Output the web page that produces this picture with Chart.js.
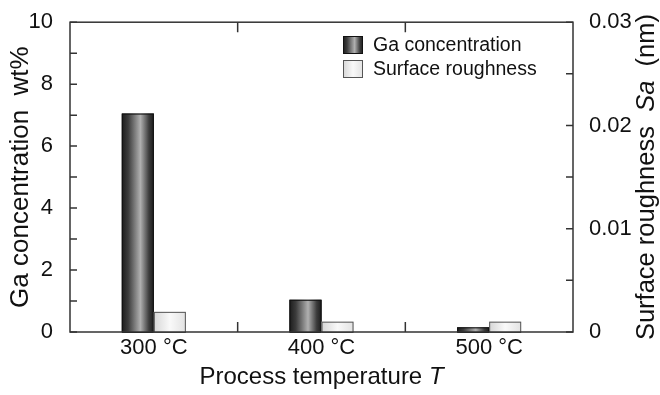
<!DOCTYPE html>
<html>
<head>
<meta charset="utf-8">
<script src="https://cdn.jsdelivr.net/npm/chart.js@4.4.0/dist/chart.umd.min.js"></script>
<style>
  html, body { margin: 0; padding: 0; background: #fff; }
  #wrap { width: 660px; height: 395px; }
</style>
</head>
<body>
<div id="wrap"><canvas id="grafico" width="660" height="395"></canvas></div>
<script>
const temperaturas = ['300 °C', '400 °C', '500 °C'];
const gaConcentracion = [7.05, 1.04, 0.15];    // wt%
const rugosidad = [0.00195, 0.001, 0.001];     // Sa (nm)
const etiquetasIzq = ['0', '2', '4', '6', '8', '10'];
const etiquetasDer = ['0', '0.01', '0.02', '0.03'];
const nombres = ['Ga concentration', 'Surface roughness'];

const FUENTE = "'Liberation Sans', Arial, Helvetica, sans-serif";
const TINTA = '#111';

// degradado horizontal de cada barra (gris oscuro / gris claro)
function degradado(ctx, x0, ancho, oscuro) {
  const g = ctx.createLinearGradient(x0, 0, x0 + ancho, 0);
  if (oscuro) {
    g.addColorStop(0, '#1c1c1c');
    g.addColorStop(0.2, '#3c3c3c');
    g.addColorStop(0.58, '#b0b0b0');
    g.addColorStop(0.85, '#3c3c3c');
    g.addColorStop(1, '#1c1c1c');
  } else {
    g.addColorStop(0, '#d6d6d6');
    g.addColorStop(0.5, '#f9f9f9');
    g.addColorStop(1, '#e2e2e2');
  }
  return g;
}

function textoMixto(ctx, partes, size, cx, cy) {
  let total = 0;
  partes.forEach(p => {
    ctx.font = (p.it ? 'italic ' : '') + size + 'px ' + FUENTE;
    p.w = ctx.measureText(p.t).width;
    total += p.w;
  });
  let x = cx - total / 2;
  partes.forEach(p => {
    ctx.font = (p.it ? 'italic ' : '') + size + 'px ' + FUENTE;
    ctx.fillText(p.t, x, cy);
    x += p.w;
  });
}

const marco = {
  id: 'marco',
  afterDatasetsDraw(chart) {
    const { ctx, chartArea: a, scales } = chart;
    ctx.save();
    // barras con degradado
    chart.data.datasets.forEach((ds, di) => {
      chart.getDatasetMeta(di).data.forEach(bar => {
        const { x, y, base, width } = bar.getProps(['x', 'y', 'base', 'width'], true);
        const x0 = x - width / 2;
        ctx.fillStyle = degradado(ctx, x0, width, di === 0);
        ctx.fillRect(x0, y, width, base - y);
        ctx.strokeStyle = di === 0 ? '#111' : '#555';
        ctx.lineWidth = 1;
        ctx.strokeRect(x0 + 0.5, y + 0.5, width - 1, base - y);
      });
    });
    // marco y marcas hacia dentro
    ctx.strokeStyle = '#333';
    ctx.lineWidth = 1.5;
    ctx.strokeRect(a.left, a.top, a.right - a.left, a.bottom - a.top);
    ctx.beginPath();
    scales.y.ticks.forEach(t => {
      const py = scales.y.getPixelForValue(t.value);
      ctx.moveTo(a.left, py); ctx.lineTo(a.left + 7, py);
    });
    scales.y1.ticks.forEach(t => {
      const py = scales.y1.getPixelForValue(t.value);
      ctx.moveTo(a.right, py); ctx.lineTo(a.right - 7, py);
    });
    for (let i = 0; i < temperaturas.length - 1; i++) {
      const px = (scales.x.getPixelForValue(i) + scales.x.getPixelForValue(i + 1)) / 2;
      ctx.moveTo(px, a.bottom); ctx.lineTo(px, a.bottom - 10);
      ctx.moveTo(px, a.top); ctx.lineTo(px, a.top + 10);
    }
    ctx.stroke();
    ctx.restore();
  },
  afterDraw(chart) {
    const { ctx, chartArea: a } = chart;
    ctx.save();
    ctx.fillStyle = TINTA;
    ctx.textBaseline = 'middle';
    // titulos de ejes
    textoMixto(ctx, [{ t: 'Process temperature ' }, { t: 'T', it: true }], 24,
      (a.left + a.right) / 2, 377);
    ctx.save();
    ctx.translate(21, (a.top + a.bottom) / 2);
    ctx.rotate(-Math.PI / 2);
    textoMixto(ctx, [{ t: 'Ga concentration  wt%' }], 26, 0, 0);
    ctx.restore();
    ctx.save();
    ctx.translate(647, (a.top + a.bottom) / 2);
    ctx.rotate(-Math.PI / 2);
    textoMixto(ctx, [{ t: 'Surface roughness  ' }, { t: 'Sa', it: true }, { t: '  (nm)' }], 25.5, 0, 0);
    ctx.restore();
    // leyenda
    nombres.forEach((n, i) => {
      const by = 36 + i * 24;
      ctx.fillStyle = degradado(ctx, 343, 20, i === 0);
      ctx.fillRect(343, by, 20, 18);
      ctx.strokeStyle = i === 0 ? '#111' : '#555';
      ctx.lineWidth = 1;
      ctx.strokeRect(343.5, by + 0.5, 19, 17);
      ctx.fillStyle = TINTA;
      ctx.font = '19.5px ' + FUENTE;
      ctx.textAlign = 'left';
      ctx.fillText(n, 373, by + 10);
    });
    ctx.restore();
  }
};

new Chart(document.getElementById('grafico'), {
  type: 'bar',
  data: {
    labels: temperaturas,
    datasets: [{
      label: nombres[0],
      data: gaConcentracion,
      yAxisID: 'y',
      backgroundColor: '#555',
      borderWidth: 0
    }, {
      label: nombres[1],
      data: rugosidad,
      yAxisID: 'y1',
      backgroundColor: '#eee',
      borderWidth: 0
    }]
  },
  options: {
    responsive: false,
    animation: false,
    layout: { padding: { top: 16, left: 0, right: 0, bottom: 0 } },
    plugins: { legend: { display: false }, tooltip: { enabled: false } },
    datasets: { bar: { categoryPercentage: 0.382, barPercentage: 1 } },
    scales: {
      x: {
        offset: true,
        grid: { display: false },
        border: { display: false },
        ticks: { color: TINTA, font: { family: FUENTE, size: 22 }, padding: -5, maxRotation: 0 },
        afterFit: s => { s.height = 63; }
      },
      y: {
        position: 'left',
        min: 0, max: 10,
        grid: { display: false },
        border: { display: false },
        ticks: {
          stepSize: 1, color: TINTA, padding: 9,
          font: { family: FUENTE, size: 22 },
          callback: (v) => v % 2 === 0 ? etiquetasIzq[v / 2] : ''
        },
        afterFit: s => { s.width = 70; }
      },
      y1: {
        position: 'right',
        min: 0, max: 0.03,
        grid: { display: false },
        border: { display: false },
        ticks: {
          stepSize: 0.005, color: TINTA, padding: 8,
          font: { family: FUENTE, size: 22 },
          callback: (v, i) => i % 2 === 0 ? etiquetasDer[i / 2] : ''
        },
        afterFit: s => { s.width = 87; }
      }
    }
  },
  plugins: [marco]
});
</script>
</body>
</html>
